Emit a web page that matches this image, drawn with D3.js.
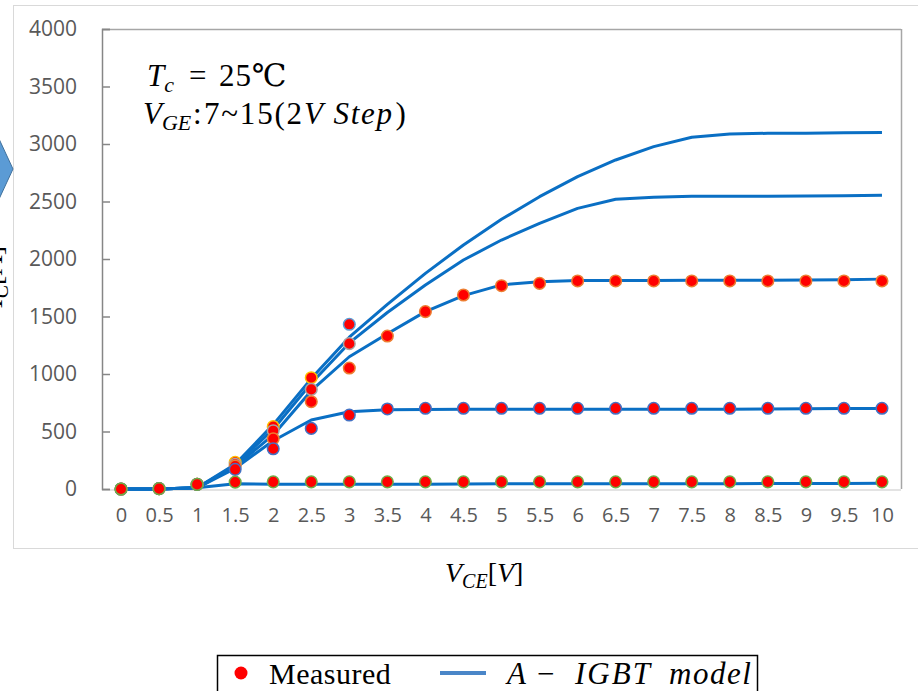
<!DOCTYPE html>
<html>
<head>
<meta charset="utf-8" />
<title>IGBT output characteristics</title>
<script src="https://d3js.org/d3.v7.min.js"></script>
<style>
  body { margin: 0; background: #ffffff; }
  svg { display: block; }
</style>
</head>
<body>
<svg id="viz" width="918" height="691"></svg>

<script>
// x categories (V_CE)
var xLabels = ["0","0.5","1","1.5","2","2.5","3","3.5","4","4.5","5","5.5","6","6.5","7","7.5","8","8.5","9","9.5","10"];
var yTicks = [0,500,1000,1500,2000,2500,3000,3500,4000];

// model curves, VGE = 7,9,11,13,15
var model7  = [0,0,10,45,42,42,42,42,42,44,45,46,46,46,46,46,46,47,47,48,50];
var model9  = [0,0,10,180,420,600,672,690,692,693,693,694,694,694,694,694,694,695,698,700,700];
var model11 = [0,0,10,195,470,855,1150,1350,1542,1682,1775,1803,1812,1813,1814,1815,1815,1816,1818,1820,1825];
var model13 = [0,0,10,205,520,920,1270,1535,1774,1991,2165,2310,2440,2519,2536,2545,2546,2546,2547,2550,2554];
var model15 = [0,0,10,215,560,960,1320,1605,1875,2122,2345,2542,2716,2861,2977,3058,3087,3093,3093,3097,3100];

// measured points (null = not measured)
var meas7  = [0,3,40,60,62,62,62,62,62,62,62,62,62,62,62,62,62,62,62,62,62];
var meas9  = [0,3,40,171,350,527,643,696,702,702,702,702,702,702,702,702,702,702,702,702,702];
var meas11 = [0,3,40,200,437,759,1052,1330,1542,1687,1768,1788,1809,1809,1809,1809,1809,1809,1809,1809,1809];
var meas13 = [0,3,40,215,507,866,1264,null,null,null,null,null,null,null,null,null,null,null,null,null,null];
var meas15 = [0,3,40,232,542,968,null,null,null,null,null,null,null,null,null,null,null,null,null,null,null];
var meas15b = [null,null,null,null,null,null,1432,null,null,null,null,null,null,null,null,null,null,null,null,null,null];

var models = [model7, model9, model11, model13, model15];
var measured = [
  {vals: meas15,  edge: "#ffc000"},
  {vals: meas13,  edge: "#a5a5a5"},
  {vals: meas15b, edge: "#5b9bd5"},
  {vals: meas11,  edge: "#ed7d31"},
  {vals: meas9,   edge: "#4472c4"},
  {vals: meas7,   edge: "#70ad47"}
];

var svg = d3.select("#viz");

// outer chart frame
svg.append("rect")
  .attr("x", 13.5).attr("y", 5.5)
  .attr("width", 940).attr("height", 543)
  .attr("fill", "none")
  .attr("stroke", "#d9d9d9");

// blue arrow shape poking in from the left
svg.append("polygon")
  .attr("points", "-13,113 13,169 -13,225")
  .attr("fill", "#5b9bd5")
  .attr("stroke", "#41719c")
  .attr("stroke-width", 1);

// clipped y axis title
var yTitle = svg.append("text")
  .attr("transform", "translate(2,246) rotate(-90)")
  .attr("text-anchor", "end")
  .style("font-family", "'Liberation Serif', serif")
  .style("font-size", "28px")
  .attr("fill", "#000");
yTitle.append("tspan").style("font-style", "italic").text("I");
yTitle.append("tspan").style("font-style", "italic").style("font-size", "20px").attr("dy", 6).text("C");
yTitle.append("tspan").attr("dy", -6).text("[A]");

var plotL = 102, plotR = 901, plotT = 29, plotB = 489;

var x = d3.scalePoint()
  .domain(xLabels)
  .range([plotL, plotR])
  .padding(0.5);

var y = d3.scaleLinear()
  .domain([0, 4000])
  .range([plotB, plotT]);

// plot frame: top and right, light bottom
svg.append("line")
  .attr("x1", plotL).attr("x2", plotR)
  .attr("y1", plotT + 0.5).attr("y2", plotT + 0.5)
  .attr("stroke", "#a6a6a6").attr("stroke-width", 1.5);
svg.append("line")
  .attr("x1", plotR + 0.5).attr("x2", plotR + 0.5)
  .attr("y1", plotT).attr("y2", plotB)
  .attr("stroke", "#a6a6a6").attr("stroke-width", 1.5);
svg.append("line")
  .attr("x1", plotL).attr("x2", plotR)
  .attr("y1", plotB + 1).attr("y2", plotB + 1)
  .attr("stroke", "#e3e3e3").attr("stroke-width", 2);

// y axis
var yAxis = svg.append("g")
  .attr("transform", "translate(" + plotL + ",0)")
  .call(d3.axisRight(y).tickValues(yTicks).tickSize(8).tickFormat(d3.format("d")));
yAxis.select(".domain").attr("stroke", "#868686").attr("stroke-width", 1.5);
yAxis.selectAll(".tick line").attr("stroke", "#868686").attr("stroke-width", 1.5);
yAxis.selectAll(".tick text")
  .attr("x", -25)
  .attr("text-anchor", "end")
  .attr("fill", "#595959")
  .style("font-family", "'Open Sans', sans-serif")
  .style("font-size", "21px");

// x axis (labels only)
var xAxis = svg.append("g")
  .attr("transform", "translate(0," + plotB + ")")
  .call(d3.axisBottom(x).tickSize(0).tickPadding(19));
xAxis.select(".domain").remove();
xAxis.selectAll(".tick text")
  .attr("fill", "#595959")
  .style("font-family", "'Open Sans', sans-serif")
  .style("font-size", "20px");

// model lines
var line = d3.line()
  .x(function(d, i) { return x(xLabels[i]); })
  .y(function(d) { return y(d); });

svg.append("g").selectAll("path")
  .data(models)
  .enter().append("path")
  .attr("d", line)
  .attr("fill", "none")
  .attr("stroke", "#0a6fc4")
  .attr("stroke-width", 3)
  .attr("stroke-linejoin", "round");

// measured points
measured.forEach(function(s) {
  var pts = s.vals.map(function(v, i) { return {x: xLabels[i], v: v}; })
    .filter(function(p) { return p.v !== null; });
  svg.append("g").selectAll("circle")
    .data(pts)
    .enter().append("circle")
    .attr("cx", function(p) { return x(p.x); })
    .attr("cy", function(p) { return y(p.v); })
    .attr("r", 5.8)
    .attr("fill", "#ff0000")
    .attr("stroke", s.edge)
    .attr("stroke-width", 1.5);
});

// annotation (math-style text)
var serif = "'Liberation Serif', 'DejaVu Serif', serif";
var a1 = svg.append("text")
  .attr("y", 86)
  .style("font-family", serif).style("font-size", "31px").attr("fill", "#000");
a1.append("tspan").attr("x", 147).style("font-style", "italic").text("T");
a1.append("tspan").style("font-style", "italic").style("font-size", "22px").attr("dy", 6).text("c");
a1.append("tspan").attr("x", 189).attr("dy", -6).text("=");
a1.append("tspan").attr("x", 219).style("letter-spacing", "1px").text("25\u2103");

var a2 = svg.append("text")
  .attr("y", 124)
  .style("font-family", serif).style("font-size", "31px").attr("fill", "#000");
a2.append("tspan").attr("x", 143).style("font-style", "italic").text("V");
a2.append("tspan").style("font-style", "italic").style("font-size", "22px").attr("dy", 6).text("GE");
a2.append("tspan").attr("x", 193).attr("dy", -6).text(":");
a2.append("tspan").attr("x", 204).style("letter-spacing", "1.8px").text("7~15(2");
a2.append("tspan").style("font-style", "italic").style("letter-spacing", "1.7px").text("V Step");
a2.append("tspan").attr("dx", 2).text(")");

// x axis title
var xt = svg.append("text")
  .attr("x", 445).attr("y", 582)
  .style("font-family", serif).style("font-size", "28px").attr("fill", "#000");
xt.append("tspan").style("font-style", "italic").text("V");
xt.append("tspan").style("font-style", "italic").style("font-size", "20px").attr("dy", 6).text("CE");
xt.append("tspan").attr("dy", -6).text("[");
xt.append("tspan").style("font-style", "italic").text("V");
xt.append("tspan").text("]");

// legend
var lg = svg.append("g");
lg.append("rect")
  .attr("x", 217.5).attr("y", 655.5)
  .attr("width", 540).attr("height", 60)
  .attr("fill", "#fff")
  .attr("stroke", "#000").attr("stroke-width", 1.5);
lg.append("circle")
  .attr("cx", 241).attr("cy", 673).attr("r", 6.5)
  .attr("fill", "#ff0000");
lg.append("text")
  .attr("x", 269).attr("y", 684)
  .style("font-family", serif).style("font-size", "30px").style("letter-spacing", "0.5px").attr("fill", "#000")
  .text("Measured");
lg.append("line")
  .attr("x1", 440).attr("x2", 486)
  .attr("y1", 673).attr("y2", 673)
  .attr("stroke", "#4a86c8").attr("stroke-width", 4);
var lt = lg.append("text")
  .attr("y", 684)
  .style("font-family", serif).style("font-size", "31px").attr("fill", "#000");
lt.append("tspan").attr("x", 507).style("font-style", "italic").text("A");
lt.append("tspan").attr("x", 537).text("\u2212");
lt.append("tspan").attr("x", 575).style("font-style", "italic").style("letter-spacing", "2px").text("IGBT");
lt.append("tspan").attr("x", 669).style("font-style", "italic").style("letter-spacing", "1.5px").text("model");
</script>
</body>
</html>
